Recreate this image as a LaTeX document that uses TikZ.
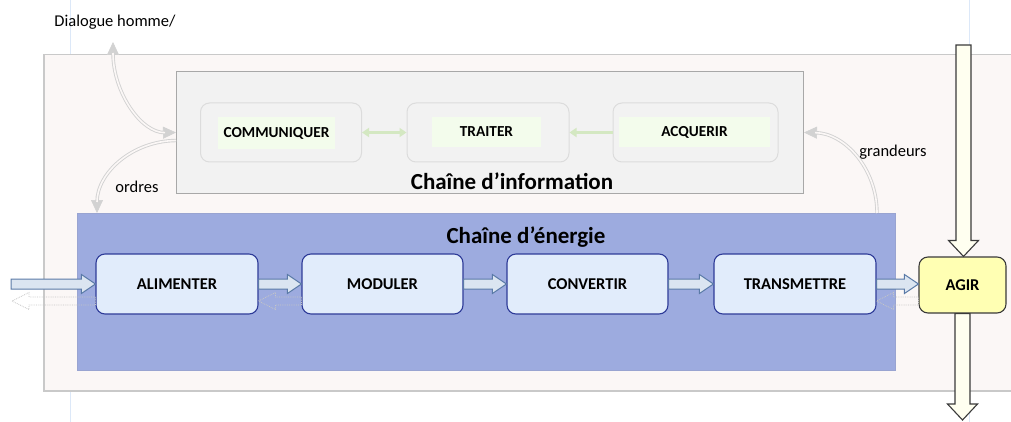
\documentclass[tikz,border=0pt]{standalone}
\usepackage{fontspec}
\setmainfont{Carlito}
\usetikzlibrary{arrows.meta,calc}
\definecolor{outerfill}{HTML}{FBF7F6}
\definecolor{outerdraw}{HTML}{C9C9C9}
\definecolor{infofill}{HTML}{F2F2F2}
\definecolor{infodraw}{HTML}{A8A8A8}
\definecolor{subdraw}{HTML}{DCDCDC}
\definecolor{labfill}{HTML}{F3FCEC}
\definecolor{greenarr}{HTML}{D4E8C2}
\definecolor{enfill}{HTML}{9DABDF}
\definecolor{boxfill}{HTML}{E1ECFB}
\definecolor{boxdraw}{HTML}{2E3B98}
\definecolor{barrfill}{HTML}{DBE5F1}
\definecolor{barrdraw}{HTML}{5A7AA7}
\definecolor{agirfill}{HTML}{FFFFB3}
\definecolor{agirdraw}{HTML}{3A3A3A}
\definecolor{yarrfill}{HTML}{FFFFF0}
\definecolor{curvgray}{HTML}{D2D2D2}
\definecolor{guidecol}{HTML}{DCE8F8}
\newcommand{\blkright}[3]{\draw[#1] let \p1=(#2), \p2=(#3) in
  (\x1,\y1+5pt) -- (\x2-14pt,\y1+5pt) -- (\x2-14pt,\y1+9.5pt) -- (\x2,\y1)
  -- (\x2-14pt,\y1-9.5pt) -- (\x2-14pt,\y1-5pt) -- (\x1,\y1-5pt) -- cycle;}
\newcommand{\blkleft}[3]{\draw[#1] let \p1=(#2), \p2=(#3) in
  (\x1,\y1+4pt) -- (\x2+17pt,\y1+4pt) -- (\x2+17pt,\y1+8.5pt) -- (\x2,\y1)
  -- (\x2+17pt,\y1-8.5pt) -- (\x2+17pt,\y1-4pt) -- (\x1,\y1-4pt) -- cycle;}
\newcommand{\blkdown}[3]{\draw[#1] let \p1=(#2), \p2=(#3) in
  (\x1-7.5pt,\y1) -- (\x1-7.5pt,\y2+16pt) -- (\x1-15pt,\y2+16pt) -- (\x1,\y2)
  -- (\x1+15pt,\y2+16pt) -- (\x1+7.5pt,\y2+16pt) -- (\x1+7.5pt,\y1) -- cycle;}
\begin{document}
\begin{tikzpicture}[x=1pt,y=-1pt,
  guide/.style={draw=guidecol,line width=0.8pt},
  outer/.style={draw=outerdraw,fill=outerfill,line width=1.5pt,anchor=north west},
  infobox/.style={draw=infodraw,fill=infofill,line width=1pt,anchor=north west},
  sub/.style={draw=subdraw,fill=infofill,line width=1pt,rounded corners=9pt,minimum height=59pt},
  lab/.style={fill=labfill,inner sep=0pt,font=\fontsize{15.3}{17}\selectfont\bfseries},
  title/.style={font=\fontsize{23}{26}\selectfont\bfseries,inner sep=0pt},
  txt/.style={font=\fontsize{16.5}{19}\selectfont,inner sep=0pt},
  enbox/.style={fill=enfill,draw=enfill!85!gray,line width=0.8pt,anchor=north west},
  ebox/.style={draw=boxdraw,fill=boxfill,line width=1.1pt,rounded corners=9pt,minimum height=60pt,font=\fontsize{16.5}{19}\selectfont\bfseries},
  agirbox/.style={draw=agirdraw,fill=agirfill,line width=1.1pt,rounded corners=9pt,minimum width=87pt,minimum height=56pt,font=\fontsize{16.5}{19}\selectfont\bfseries},
  barrow/.style={draw=barrdraw,fill=barrfill,line width=1pt,line join=miter},
  rarrow/.style={draw=gray!45,densely dotted,line width=0.8pt},
  yarrow/.style={draw=agirdraw,fill=yarrfill,line width=1.1pt},
  curvtip/.style={draw=curvgray,line width=0.6pt},
  curv/.style={draw=curvgray,double=outerfill,double distance=1.6pt,line width=0.9pt},
  ctip/.style={-{Triangle[length=13pt,width=12pt,fill=curvgray]}},
  cboth/.style={{Triangle[length=13pt,width=12pt,fill=curvgray]}-{Triangle[length=13pt,width=12pt,fill=curvgray]}},
  garrow/.style={draw=greenarr,line width=3pt}
]
\useasboundingbox (0,0) rectangle (1011,422);
% page guides
\draw[guide] (70,0) -- (70,422);
\draw[guide] (969,0) -- (969,422);
% outer panel
\node[outer,minimum width=985pt,minimum height=336pt] (panel) at (43,54) {};
% information chain
\node[infobox,minimum width=627pt,minimum height=122pt] (info) at (176,71) {};
\node[sub,minimum width=161pt] (comm) at (281,132.5) {};
\node[sub,minimum width=162pt] (trait) at (488,132.5) {};
\node[sub,minimum width=165pt] (acq) at (695.5,132.5) {};
\node[lab,minimum width=117pt,minimum height=32pt] (commL) at (276.5,133) {COMMUNIQUER};
\node[lab,minimum width=109pt,minimum height=30pt] (traitL) at (486.5,132) {TRAITER};
\node[lab,minimum width=151pt,minimum height=30pt] (acqL) at (694.5,132) {ACQUERIR};
\draw[garrow,{Triangle[length=7pt,width=9pt]}-{Triangle[length=7pt,width=9pt]}] (comm.east) -- (trait.west);
\draw[garrow,-{Triangle[length=7pt,width=9pt]}] (acq.west) -- (trait.east);
\node[title] (infoT) at (512,181) {Chaîne d’information};
% energy chain
\node[enbox,minimum width=818pt,minimum height=157pt] (en) at (77,213) {};
\node[title] (enT) at (526,237) {Chaîne d’énergie};
\node[ebox,minimum width=162pt] (alim) at (177,284) {ALIMENTER};
\node[ebox,minimum width=161pt] (mod) at (382.5,284) {MODULER};
\node[ebox,minimum width=161pt] (conv) at (587.5,284) {CONVERTIR};
\node[ebox,minimum width=162pt] (trans) at (795,284) {TRANSMETTRE};
\node[agirbox] (agir) at (962.5,285) {AGIR};
% coordinates for free ends
\coordinate (src) at (11,284);
\coordinate (srcret) at (12,301);
\coordinate (topin) at (963.5,45);
\coordinate (botout) at (963.5,420);
\coordinate (dtip) at (113,42);
\coordinate (otip) at (97,213);
\coordinate (gstart) at (877,213);
\coordinate (ostart) at ($(info.west)+(0,8)$);
% return (dotted) arrows
\blkleft{rarrow}{$(alim.west)+(0,17)$}{srcret}
\blkleft{rarrow}{$(mod.west)+(0,17)$}{alim.east}
\blkleft{rarrow}{$(agir.west)+(0,16)$}{trans.east}
% energy flow arrows
\blkright{barrow}{src}{alim.west}
\blkright{barrow}{alim.east}{mod.west}
\blkright{barrow}{mod.east}{conv.west}
\blkright{barrow}{conv.east}{trans.west}
\blkright{barrow}{trans.east}{agir.west}
% matter flow through AGIR
\blkdown{yarrow}{topin}{agir.north}
\blkdown{yarrow}{agir.south}{botout}
% labels
\node[txt] (dlg) at (115,22) {Dialogue homme/};
\node[txt] (ordL) at (137,187) {ordres};
\node[txt] (grL) at (893,152) {grandeurs};
% curved information arrows: heads first, then the double line on top
\draw[curvtip,cboth] (dtip) .. controls (113,92) and (141,133) .. (info.west);
\draw[curv,shorten <=11pt,shorten >=11pt] (dtip) .. controls (113,92) and (141,133) .. (info.west);
\draw[curvtip,ctip] (ostart) .. controls (132,141) and (97,173) .. (otip);
\draw[curv,shorten >=11pt] (ostart) .. controls (132,141) and (97,173) .. (otip);
\draw[curvtip,ctip] (gstart) .. controls (877,169) and (845,133) .. (info.east);
\draw[curv,shorten >=11pt] (gstart) .. controls (877,169) and (845,133) .. (info.east);
\end{tikzpicture}
\end{document}
